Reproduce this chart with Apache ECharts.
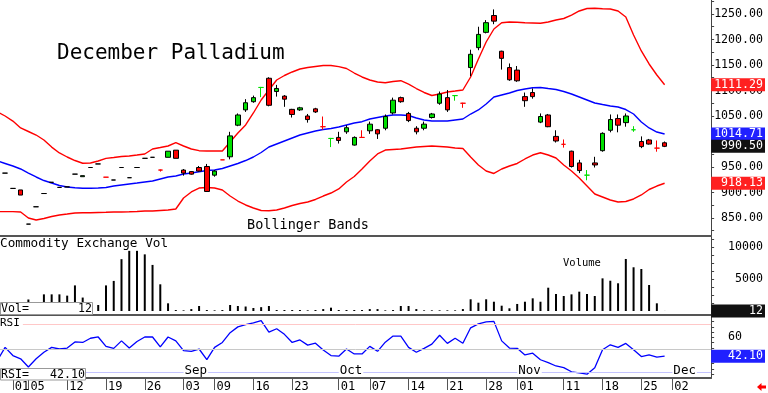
<!DOCTYPE html>
<html><head><meta charset="utf-8">
<script src="https://cdn.jsdelivr.net/npm/echarts@6/dist/echarts.min.js"></script>
<style>html,body{margin:0;padding:0;background:#fff;}#c{width:768px;height:393px;}</style>
</head><body><div id="c"></div>
<script>
// ---------- DATA ----------
const dates = ['07-30','07-31',
'08-01','08-02','08-05','08-06','08-07','08-08','08-09','08-12','08-13','08-14','08-15','08-16','08-19','08-20','08-21','08-22','08-23','08-26','08-27','08-28','08-29','08-30',
'09-03','09-04','09-05','09-06','09-09','09-10','09-11','09-12','09-13','09-16','09-17','09-18','09-19','09-20','09-23','09-24','09-25','09-26','09-27','09-30',
'10-01','10-02','10-03','10-04','10-07','10-08','10-09','10-10','10-11','10-14','10-15','10-16','10-17','10-18','10-21','10-22','10-23','10-24','10-25','10-28','10-29','10-30','10-31',
'11-01','11-04','11-05','11-06','11-07','11-08','11-11','11-12','11-13','11-14','11-15','11-18','11-19','11-20','11-21','11-22','11-25','11-26','11-27','11-29'];
const futureDates = ['12-02'];

const opens = [null,938,908,905,838,872,898,920,910,911,936,931,949,956,930,924.5,949,929,949,967,969,944,969,983,
944,941,949,951,934,964,970,1032,1062,1078,1106,1124,1098,1089,1063,1062,1050,1064,1029,1006,
1008,1019,993,1008,1021,1023,1026,1056,1086,1055,1026,1026,1047,1075,1086,1090,1075,1145,1184,1214,1247,1177,1145,
1140,1088,1096,1038,1052,1010,994.5,981,958,934,958,982,1022,1045,1037,1023,1000,1003,987,997.5];
const closes = [null,938,908,895,838,872,898,920,910,911,936,933,949,956,930,924.5,949,929,949,967,969,944,981,967,
938,936,942,902,942,964,1011,1052,1076,1086,1106,1071,1104,1083,1053,1066,1043,1058,1029,1006,
1002,1027,1008,1008,1034,1015,1049,1081,1078,1041,1019,1034,1054,1093,1062,1090,1075,1171,1210,1233,1236,1163,1121,
1119,1080,1088,1049,1029,1001,994.5,951,943,934,954,1016,1043,1032,1050,1023,990,995,987,990.5];
const lows = [null,938,908,895,838,872,898,920,910,911,936,931,949,956,930,924.5,949,929,949,967,969,941,969,967,
933,935,941,901,931,964,965,1030,1058,1076,1087,1069,1088,1068,1047,1060,1037,1056,1023,989,
996,1015,992,1008,1015,1005,1022,1053,1076,1038,1014,1022,1045,1072,1058,1080,1066,1128,1179,1212,1230,1141,1119,
1117,1068,1084,1036,1028,998,988,949,938,924,949,980,1018,1018,1029,1019,987,994,980,989];
const highs = [null,938,908,905,838,872,898,920,910,911,936,933,949,956,930,924.5,949,929,949,967,969,945,981,983,
946,942,952,956,944,964,1019,1055,1083,1090,1107,1126,1111,1091,1064,1068,1054,1066,1049,1007,
1019,1032,1010,1022,1039,1024,1053,1086,1088,1058,1030,1039,1056,1098,1101,1091,1076,1180,1225,1238,1259,1178,1153,
1148,1096,1104,1055,1054,1022,1004,982,964,944,970,1018,1053,1053,1055,1030,1010,1005,1002,1000];

const upperBand = [1058,1050,1040,1026.5,1019.6,1012.7,1003,989,977.5,969.6,962.7,957.3,957.8,961.8,967,968.6,970.6,971.6,973.5,975.5,985.3,988.2,991.2,997.6,
991.2,985.3,982,981.4,981.4,981.4,999,1016.7,1032.4,1055.9,1081.4,1101,1120.6,1129.4,1136.3,1142.2,1145.1,1147.1,1149,1149,
1146.7,1143.1,1134.3,1126.5,1120.6,1116.7,1115.3,1117.6,1119.2,1112.7,1103.9,1096.1,1090.2,1093.1,1097.1,1099,1101,1126.5,1161.8,1195.1,1220.6,1232.9,1234.3,
1233.7,1232.9,1232.4,1231.8,1234.3,1238.2,1241.2,1248,1255.9,1260.8,1261.2,1260.4,1259.8,1255.9,1244.1,1208.8,1177.5,1152,1130.4,1111.29];
const midBand = [961.8,956.9,952,946.1,938.2,930.4,923.5,918.6,913.7,910.8,909.2,908.2,908.2,908.8,909.8,912.7,914.7,916.7,918.6,920.6,922.5,926.5,930.4,932.4,
936.3,938.2,940.8,943.1,944.1,947.1,952,956.9,962.7,969.6,978.4,989.2,995.1,1001,1006.9,1012.7,1016.7,1020.6,1023.5,1025.5,
1028.4,1032.4,1036.3,1038.8,1044.1,1047.1,1050,1052,1052,1051,1046.1,1042.2,1040.2,1040.2,1040.2,1042.2,1044.1,1053.9,1061.8,1073.5,1087.3,1091.2,1095.1,
1100,1102.9,1105.5,1105.9,1103.9,1102,1098,1093.1,1087.3,1081.4,1075.5,1072.5,1069.6,1067.6,1062.7,1053.9,1038.2,1026.5,1018.6,1014.71];
const lowerBand = [862.4,862.4,862.4,861.8,850,846.1,849,852.9,855.9,857.8,859.8,860.2,860.4,860.8,861.2,861.8,861.8,862.2,862.7,863.7,863.7,864.7,865.7,867.6,
889.2,901,908.8,909.8,908.8,904.9,893.1,883.3,875.5,869.6,864.7,864.1,865.7,869.6,874.5,878.4,881.4,886.3,893.1,899,
906.9,920.6,931.4,946.1,961.8,975.5,983.3,984.3,985.3,987.3,989.2,990.2,991.2,990.2,989.2,987.3,986.3,969.6,953.9,942.2,937.3,946.1,952,
956.9,965.7,973.5,978,973.5,967.6,953.9,942.2,928.4,912.7,897.1,891.2,885.3,881.4,882.4,887.3,895.1,905.9,912.7,918.13];

const volume = [null,600,800,900,1800,900,2600,2600,2600,2400,4000,2100,1000,940,4000,4700,8100,9400,9400,8850,7200,4170,1200,150,
100,300,780,150,100,150,940,780,700,470,600,780,150,150,150,150,100,150,300,520,
150,150,150,150,300,300,100,150,780,780,300,100,100,100,100,100,300,1830,1300,1830,1450,830,420,
1100,1450,1980,1450,3640,2660,2340,2600,3020,2660,2340,5100,4730,4330,8130,6830,6560,4060,1200,12];

const rsi = [38.2,50.4,42.7,39.6,31.9,39.6,45.8,50.4,48.9,49.8,55.6,55.1,59.1,60.3,51.4,49.5,56.6,49.8,56,60.3,60.3,51,60.3,56.6,
47.3,46.7,48.9,38.9,50.4,55.1,64.4,69.9,72.1,73.6,75.8,64.9,68.1,62.8,55.1,57.5,52.6,54.4,47.9,42.7,
42.1,48.9,44.2,44.2,51.4,46.7,55.4,61.2,61.2,50.4,45.8,49.5,53.5,61.9,54.2,59.1,54.4,69,72.7,74.6,75.1,56.6,49.8,
49.5,43.3,44.9,38.7,35.9,32.8,31.2,27.3,26.3,25,31.2,48.2,52.9,50.4,54.2,48.2,41.7,43.3,41.2,42.10];

const rsiGuides = [72.5, 48.9, 26.9];
const priceTicks = [850,900,950,1000,1050,1100,1150,1200,1250];
const volumeTicks = [5000,10000];
const rsiTicks = [60];
const weekLabels = ['08-01','08-05','08-12','08-19','08-26','09-03','09-09','09-16','09-23','10-01','10-07','10-14','10-21','10-28','11-01','11-11','11-18','11-25','12-02'];
const monthLabels = [['09-03','Sep'],['10-01','Oct'],['11-01','Nov'],['12-02','Dec']];
const dojiTone = {'08-19':'r','08-28':'r','09-10':'r','09-27':'r','10-04':'r','10-23':'r','11-11':'r','11-27':'r',
                  '09-17':'g','09-30':'g','10-22':'g','11-14':'g','11-22':'g'};

// ---------- CHART ----------
const mono = '"DejaVu Sans Mono", monospace';
const UP = '#00e000', DOWN = '#ff0000';
const axisDates = dates.concat(futureDates);
const OFFSET = axisDates.indexOf('08-05');
const xOf = d => axisDates.indexOf(d) - OFFSET;
const XMIN = -3.659, XMAX = 87.997;
const PMIN = 814.7, PMAX = 1277.45;
const VMIN = -625, VMAX = 11562;
const RMIN = 21.4, RMAX = 80.2;
const last = a => a[a.length - 1];

const candleData = [];
dates.forEach((d, k) => {
  if (opens[k] == null) return;
  const item = { value: [k - OFFSET, opens[k], closes[k], lows[k], highs[k]] };
  const t = dojiTone[d];
  if (t) { const c = t === 'r' ? DOWN : UP; item.itemStyle = { color: c, color0: c, borderColor: c, borderColor0: c, borderColorDoji: c }; }
  candleData.push(item);
});
const toXY = arr => arr.map((v, k) => v == null ? null : [k - OFFSET, v]).filter(p => p);

const weekX = weekLabels.map(xOf);
const weekText = {}; weekLabels.forEach(d => weekText[xOf(d)] = d.slice(3));
const monthX = monthLabels.map(m => xOf(m[0]));
const monthText = {}; monthLabels.forEach(m => monthText[xOf(m[0])] = m[1]);

const range = (a, b, s) => { const r = []; for (let v = a; v <= b + 1e-9; v += s) r.push(v); return r; };

function hiddenX(gi) {
  return { type: 'value', gridIndex: gi, min: XMIN, max: XMAX, position: 'bottom',
    axisLine: { show: true, onZero: false, lineStyle: { color: '#555', width: 2 } },
    axisTick: { show: false }, axisLabel: { show: false }, splitLine: { show: false } };
}
function mainY(gi, min, max, ticks, minor, fmt) {
  return { type: 'value', gridIndex: gi, position: 'right', min, max, splitLine: { show: false },
    axisLine: { show: true, onZero: false, lineStyle: { color: '#444', width: 1 } },
    axisTick: { show: true, customValues: minor, length: 3, lineStyle: { color: '#444' } },
    axisLabel: { customValues: ticks, margin: 3, formatter: fmt, fontFamily: mono, fontSize: 11.6, color: '#000' } };
}
function tagY(gi, min, max, value, text, bg) {
  return { type: 'value', gridIndex: gi, position: 'right', min, max, splitLine: { show: false },
    axisLine: { show: false, onZero: false }, axisTick: { show: false },
    axisLabel: { customValues: [value], margin: 0, formatter: () => text, fontFamily: mono, fontSize: 11.6,
      color: '#fff', backgroundColor: bg, padding: [1, 2, 0, 3], lineHeight: 12 } };
}
const p7 = s => String(s).padStart(7, ' ');

const option = {
  animation: false,
  backgroundColor: '#fff',
  grid: [
    { left: 0, right: 54, top: 0, height: 236 },
    { left: 0, right: 54, top: 237, height: 78 },
    { left: 0, right: 54, top: 316, height: 64 }
  ],
  xAxis: [
    hiddenX(0), hiddenX(1),
    { type: 'value', gridIndex: 2, min: XMIN, max: XMAX, position: 'bottom', splitLine: { show: false },
      axisLine: { show: true, onZero: false, lineStyle: { color: '#555', width: 2 } },
      axisTick: { show: true, customValues: weekX, length: 12, lineStyle: { color: '#555' } },
      axisLabel: { customValues: weekX, formatter: v => weekText[v] || '', align: 'left', padding: [0, 0, 0, 2],
        margin: 3, fontFamily: mono, fontSize: 12, color: '#000' } },
    { type: 'value', gridIndex: 2, min: XMIN, max: XMAX, position: 'bottom', z: 10, splitLine: { show: false },
      axisLine: { show: false, onZero: false }, axisTick: { show: false },
      axisLabel: { inside: true, customValues: monthX, formatter: v => monthText[v] || '', align: 'left',
        margin: 1, padding: [0, 1, 0, 1], backgroundColor: '#fff', fontFamily: mono, fontSize: 12.5, color: '#000' } }
  ],
  yAxis: [
    mainY(0, PMIN, PMAX, priceTicks, range(825, 1275, 25), v => p7(v.toFixed(2))),
    tagY(0, PMIN, PMAX, last(upperBand), p7(last(upperBand).toFixed(2)), '#ff2020'),
    tagY(0, PMIN, PMAX, last(midBand), p7(last(midBand).toFixed(2)), '#2020ff'),
    tagY(0, PMIN, PMAX, last(closes), p7(last(closes).toFixed(2)), '#111'),
    tagY(0, PMIN, PMAX, last(lowerBand), p7(last(lowerBand).toFixed(2)), '#ff2020'),
    mainY(1, VMIN, VMAX, volumeTicks, range(0, 11250, 1250), v => p7(v)),
    tagY(1, VMIN, VMAX, last(volume), p7(last(volume)), '#111'),
    mainY(2, RMIN, RMAX, rsiTicks, range(25, 80, 5), v => '  ' + v),
    tagY(2, RMIN, RMAX, last(rsi), p7(last(rsi).toFixed(2)), '#2020ff')
  ],
  series: [
    { type: 'line', xAxisIndex: 0, yAxisIndex: 0, data: toXY(upperBand), symbol: 'none', silent: true, z: 2,
      lineStyle: { color: '#ff0000', width: 1.4 } },
    { type: 'line', xAxisIndex: 0, yAxisIndex: 0, data: toXY(midBand), symbol: 'none', silent: true, z: 2,
      lineStyle: { color: '#0000ff', width: 1.4 } },
    { type: 'line', xAxisIndex: 0, yAxisIndex: 0, data: toXY(lowerBand), symbol: 'none', silent: true, z: 2,
      lineStyle: { color: '#ff0000', width: 1.4 } },
    { type: 'candlestick', xAxisIndex: 0, yAxisIndex: 0, data: candleData, barWidth: 5, z: 3,
      itemStyle: { color: UP, color0: DOWN, borderColor: '#000', borderColor0: '#000', borderColorDoji: '#000', borderWidth: 1 } },
    { type: 'bar', xAxisIndex: 1, yAxisIndex: 5, data: toXY(volume), barWidth: 2, itemStyle: { color: '#000' } },
    { type: 'line', xAxisIndex: 2, yAxisIndex: 7, data: toXY(rsi), symbol: 'none', z: 3,
      lineStyle: { color: '#0000ff', width: 1.3 },
      markLine: { silent: true, symbol: 'none', label: { show: false }, animation: false,
        lineStyle: { type: 'solid', width: 1 },
        data: [
          { yAxis: rsiGuides[0], lineStyle: { color: '#ffc8c8', type: 'solid' } },
          { yAxis: rsiGuides[1], lineStyle: { color: '#c8c8c8', type: 'solid' } },
          { yAxis: rsiGuides[2], lineStyle: { color: '#c4c4ff', type: 'solid' } }
        ] } }
  ],
  graphic: [
    { type: 'text', x: 57, y: 43, z: 100, style: { text: 'December Palladium', font: '21px ' + mono, fill: '#000', align: 'left', verticalAlign: 'top' } },
    { type: 'text', x: 247, y: 218, z: 100, style: { text: 'Bollinger Bands', font: '13.5px ' + mono, fill: '#000', align: 'left', verticalAlign: 'top' } },
    { type: 'text', x: 0, y: 237, z: 100, style: { text: 'Commodity Exchange Vol', font: '12.7px ' + mono, fill: '#000', align: 'left', verticalAlign: 'top' } },
    { type: 'text', x: 563, y: 258, z: 100, style: { text: 'Volume', font: '10.5px ' + mono, fill: '#000', align: 'left', verticalAlign: 'top' } },
    { type: 'text', x: 0, y: 318, z: 100, style: { text: 'RSI', font: '11px ' + mono, fill: '#000', align: 'left', verticalAlign: 'top', backgroundColor: '#fff', padding: [0, 3, 0, 0] } },
    { type: 'rect', z: 100, shape: { x: 0.5, y: 302.5, width: 92, height: 12 }, style: { fill: '#fff', stroke: '#999', lineWidth: 1 } },
    { type: 'text', x: 1, y: 309, z: 101, style: { text: 'Vol=', font: '11.6px ' + mono, fill: '#000', align: 'left', verticalAlign: 'middle' } },
    { type: 'text', x: 92, y: 309, z: 101, style: { text: String(last(volume)), font: '11.6px ' + mono, fill: '#000', align: 'right', verticalAlign: 'middle' } },
    { type: 'rect', z: 100, shape: { x: 0.5, y: 368.5, width: 85, height: 11.5 }, style: { fill: '#fff', stroke: '#999', lineWidth: 1 } },
    { type: 'text', x: 1, y: 374.5, z: 101, style: { text: 'RSI=', font: '11.6px ' + mono, fill: '#000', align: 'left', verticalAlign: 'middle' } },
    { type: 'text', x: 85, y: 374.5, z: 101, style: { text: last(rsi).toFixed(2), font: '11.6px ' + mono, fill: '#000', align: 'right', verticalAlign: 'middle' } },
    { type: 'polygon', z: 100, shape: { points: [[757, 387], [761.5, 383], [761.5, 385.5], [766, 385.5], [766, 388.5], [761.5, 388.5], [761.5, 391]] }, style: { fill: '#ff0000' } }
  ]
};
const chart = echarts.init(document.getElementById('c'), null, { renderer: 'canvas' });
chart.setOption(option);
</script>
</body></html>
